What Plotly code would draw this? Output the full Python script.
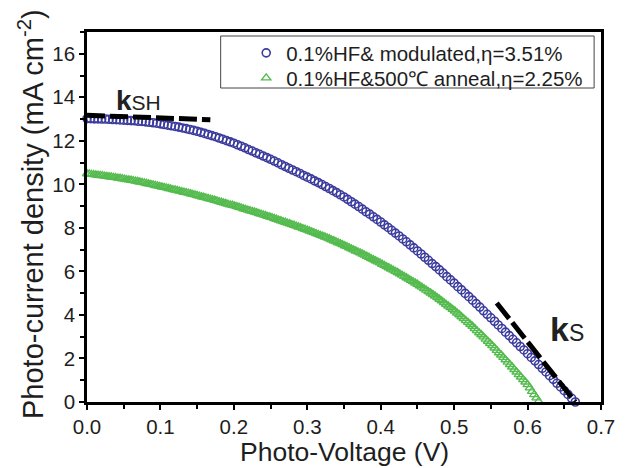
import plotly.graph_objects as go

# ---- data ----
v_blue = [0.000,0.005,0.010,0.015,0.020,0.025,0.030,0.035,0.040,0.045,
          0.050,0.055,0.060,0.065,0.070,0.075,0.080,0.085,0.090,0.095,
          0.100,0.105,0.110,0.115,0.120,0.125,0.130,0.135,0.140,0.145,
          0.150,0.155,0.160,0.165,0.170,0.175,0.180,0.185,0.190,0.195,
          0.200,0.205,0.210,0.215,0.220,0.225,0.230,0.235,0.240,0.245,
          0.250,0.255,0.260,0.265,0.270,0.275,0.280,0.285,0.290,0.295,
          0.300,0.305,0.310,0.315,0.320,0.325,0.330,0.335,0.340,0.345,
          0.350,0.355,0.360,0.365,0.370,0.375,0.380,0.385,0.390,0.395,
          0.400,0.405,0.410,0.415,0.420,0.425,0.430,0.435,0.440,0.445,
          0.450,0.455,0.460,0.465,0.470,0.475,0.480,0.485,0.490,0.495,
          0.500,0.505,0.510,0.515,0.520,0.525,0.530,0.535,0.540,0.545,
          0.550,0.555,0.560,0.565,0.570,0.575,0.580,0.585,0.590,0.595,
          0.600,0.605,0.610,0.615,0.620,0.625,0.630,0.635,0.640,0.645,
          0.650,0.655,0.660,0.665]
j_blue = [13.02,13.02,13.01,13.01,13.00,13.00,12.99,12.98,12.97,12.96,
          12.95,12.94,12.93,12.92,12.90,12.89,12.87,12.85,12.83,12.81,
          12.78,12.75,12.72,12.69,12.66,12.63,12.59,12.56,12.52,12.48,
          12.44,12.39,12.34,12.29,12.24,12.19,12.13,12.07,12.01,11.95,
          11.89,11.82,11.75,11.68,11.60,11.53,11.45,11.38,11.30,11.23,
          11.15,11.07,10.99,10.90,10.82,10.74,10.66,10.58,10.50,10.41,
          10.33,10.25,10.16,10.08,9.99,9.90,9.81,9.71,9.62,9.52,
          9.42,9.31,9.20,9.09,8.98,8.86,8.74,8.63,8.51,8.39,
          8.27,8.14,8.02,7.89,7.76,7.63,7.49,7.36,7.22,7.08,
          6.94,6.80,6.65,6.51,6.36,6.22,6.07,5.92,5.76,5.61,
          5.46,5.30,5.15,4.99,4.84,4.68,4.52,4.36,4.19,4.03,
          3.87,3.71,3.54,3.38,3.21,3.05,2.88,2.72,2.55,2.39,
          2.22,2.05,1.89,1.72,1.55,1.38,1.21,1.04,0.86,0.69,
          0.52,0.35,0.17,0.00]

v_green = [0.000,0.003,0.006,0.009,0.012,0.015,0.018,0.021,0.024,0.027,
           0.030,0.033,0.036,0.039,0.042,0.045,0.048,0.051,0.054,0.057,
           0.060,0.063,0.066,0.069,0.072,0.075,0.078,0.081,0.084,0.087,
           0.090,0.093,0.096,0.099,0.102,0.105,0.108,0.111,0.114,0.117,
           0.120,0.123,0.126,0.129,0.132,0.135,0.138,0.141,0.144,0.147,
           0.150,0.153,0.156,0.159,0.162,0.165,0.168,0.171,0.174,0.177,
           0.180,0.183,0.186,0.189,0.192,0.195,0.198,0.201,0.204,0.207,
           0.210,0.213,0.216,0.219,0.222,0.225,0.228,0.231,0.234,0.237,
           0.240,0.243,0.246,0.249,0.252,0.255,0.258,0.261,0.264,0.267,
           0.270,0.273,0.276,0.279,0.282,0.285,0.288,0.291,0.294,0.297,
           0.300,0.303,0.306,0.309,0.312,0.315,0.318,0.321,0.324,0.327,
           0.330,0.333,0.336,0.339,0.342,0.345,0.348,0.351,0.354,0.357,
           0.360,0.363,0.366,0.369,0.372,0.375,0.378,0.381,0.384,0.387,
           0.390,0.393,0.396,0.399,0.402,0.405,0.408,0.411,0.414,0.417,
           0.420,0.423,0.426,0.429,0.432,0.435,0.438,0.441,0.444,0.447,
           0.450,0.453,0.456,0.459,0.462,0.465,0.468,0.471,0.474,0.477,
           0.480,0.483,0.486,0.489,0.492,0.495,0.498,0.501,0.504,0.507,
           0.510,0.513,0.516,0.519,0.522,0.525,0.528,0.531,0.534,0.537,
           0.540,0.543,0.546,0.549,0.552,0.555,0.558,0.561,0.564,0.567,
           0.570,0.573,0.576,0.579,0.582,0.585,0.588,0.591,0.594,0.597,
           0.600,0.603,0.606,0.609,0.612,0.615]
j_green = [10.49,10.48,10.46,10.45,10.44,10.42,10.41,10.40,10.38,10.37,
           10.35,10.34,10.32,10.31,10.29,10.28,10.26,10.24,10.22,10.21,
           10.19,10.17,10.15,10.13,10.11,10.09,10.07,10.04,10.02,10.00,
           9.98,9.95,9.93,9.91,9.88,9.86,9.84,9.81,9.79,9.76,
           9.74,9.72,9.69,9.67,9.64,9.62,9.60,9.57,9.54,9.52,
           9.49,9.46,9.43,9.41,9.38,9.35,9.32,9.30,9.27,9.24,
           9.21,9.18,9.15,9.12,9.09,9.06,9.04,9.01,8.98,8.95,
           8.92,8.88,8.85,8.82,8.79,8.76,8.73,8.70,8.66,8.63,
           8.60,8.57,8.53,8.50,8.47,8.43,8.40,8.36,8.33,8.29,
           8.26,8.22,8.19,8.15,8.12,8.08,8.04,8.01,7.97,7.94,
           7.90,7.86,7.82,7.78,7.74,7.70,7.66,7.62,7.58,7.54,
           7.50,7.45,7.41,7.37,7.32,7.28,7.23,7.18,7.14,7.09,
           7.04,6.99,6.94,6.90,6.85,6.80,6.75,6.70,6.65,6.59,
           6.54,6.49,6.44,6.39,6.33,6.28,6.22,6.17,6.11,6.06,
           6.00,5.95,5.89,5.83,5.77,5.71,5.65,5.59,5.53,5.47,
           5.41,5.34,5.28,5.21,5.14,5.07,5.01,4.94,4.87,4.80,
           4.72,4.65,4.57,4.49,4.41,4.34,4.26,4.18,4.09,4.01,
           3.92,3.83,3.74,3.66,3.57,3.48,3.38,3.28,3.18,3.09,
           2.99,2.89,2.79,2.69,2.59,2.48,2.37,2.26,2.16,2.05,
           1.94,1.83,1.72,1.61,1.49,1.38,1.26,1.15,1.03,0.92,
           0.80,0.65,0.49,0.34,0.19,0.03]

# tangent guide lines (k_SH near Jsc, k_S near Voc)
ksh_v = [0.0, 0.168]
ksh_j = [13.17, 12.97]
ks_v = [0.558, 0.665]
ks_j = [4.55, 0.0]

name_blue = "0.1%HF& modulated,η=3.51%"
name_green = "0.1%HF&500℃ anneal,η=2.25%"
x_ticks = [0.0, 0.1, 0.2, 0.3, 0.4, 0.5, 0.6, 0.7]
y_ticks = [0, 2, 4, 6, 8, 10, 12, 14, 16]

FONT = "Liberation Sans, Arial, sans-serif"
BLUE = "#3b3b9d"
GREEN = "#55bb4f"
TXT = "#1e1e1e"

# page body has an 8px margin: figure is 619x460 so it fills the 627x468 window
W, H = 619, 460
ML, MR, MT, MB = 79, 17, 24, 66
PW, PH = W - ML - MR, H - MT - MB


def px_x(px):  # window pixel -> paper x
    return (px - 8 - ML) / PW


def px_y(py):  # window pixel -> paper y
    return (H - MB - (py - 8)) / PH


fig = go.Figure()
fig.add_trace(go.Scatter(
    x=v_blue, y=j_blue, mode="markers", name=name_blue, cliponaxis=False, legend="legend",
    marker=dict(symbol="circle-open", size=8, color=BLUE, line=dict(width=1.6, color=BLUE))))
fig.add_trace(go.Scatter(
    x=v_green, y=j_green, mode="markers", name=name_green, cliponaxis=False, legend="legend2",
    marker=dict(symbol="triangle-up-open", size=8, color=GREEN, line=dict(width=1.4, color=GREEN))))
fig.add_trace(go.Scatter(
    x=ksh_v, y=ksh_j, mode="lines", showlegend=False, cliponaxis=False,
    line=dict(color="black", width=5, dash="18px,5px")))
fig.add_trace(go.Scatter(
    x=ks_v, y=ks_j, mode="lines", showlegend=False, cliponaxis=False,
    line=dict(color="black", width=5, dash="20px,5px")))

axis_common = dict(showline=True, linewidth=2.5, linecolor="black", mirror=True,
                   ticks="outside", ticklen=5, tickwidth=2, tickcolor="black",
                   showgrid=False, zeroline=False,
                   tickfont=dict(family=FONT, size=20.5, color=TXT))
fig.update_xaxes(range=[0, 0.7], tickvals=x_ticks, ticktext=[f"{t:.1f}" for t in x_ticks],
                 minor=dict(ticks="outside", ticklen=4, tickwidth=1.5, tickcolor="black", dtick=0.05,
                            tick0=0), **axis_common)
fig.update_yaxes(range=[0, 17], tickvals=y_ticks,
                 minor=dict(ticks="outside", ticklen=4, tickwidth=1.5, tickcolor="black", dtick=1,
                            tick0=0), **axis_common)

fig.add_annotation(text="Photo-Voltage (V)", xref="paper", yref="paper", x=0.5, y=px_y(452),
                   xanchor="center", yanchor="middle", showarrow=False,
                   font=dict(family=FONT, size=26.5, color=TXT))
fig.add_annotation(text="Photo-current density (mA cm<sup>-2</sup>)", xref="paper", yref="paper",
                   x=px_x(30), y=px_y(214), xanchor="center", yanchor="middle", textangle=-90,
                   showarrow=False, font=dict(family=FONT, size=29, color=TXT))
fig.add_annotation(text="<b>k</b><span style='font-size:21px'>SH</span>", x=0.037, y=13.06,
                   xanchor="left", yanchor="bottom", showarrow=False,
                   font=dict(family=FONT, size=28, color="#222222"))
fig.add_annotation(text="<b>k</b><span style='font-size:23px'>S</span>", x=0.628, y=2.4,
                   xanchor="left", yanchor="bottom", showarrow=False,
                   font=dict(family=FONT, size=34, color="#222222"))

# legend frame
fig.add_shape(type="rect", xref="paper", yref="paper",
              x0=px_x(223), x1=px_x(603), y0=px_y(88), y1=px_y(36),
              line=dict(color="#444444", width=1), fillcolor="white", layer="below")

leg_common = dict(xanchor="left", yanchor="middle", bgcolor="rgba(0,0,0,0)",
                  borderwidth=0, font=dict(family=FONT, size=20.5, color=TXT))
fig.update_layout(
    width=W, height=H,
    margin=dict(l=ML, r=MR, t=MT, b=MB),
    paper_bgcolor="white", plot_bgcolor="white",
    showlegend=True,
    legend=dict(x=px_x(249), y=px_y(53), **leg_common),
    legend2=dict(x=px_x(249), y=px_y(78), **leg_common),
)

fig.write_html("out.html")
